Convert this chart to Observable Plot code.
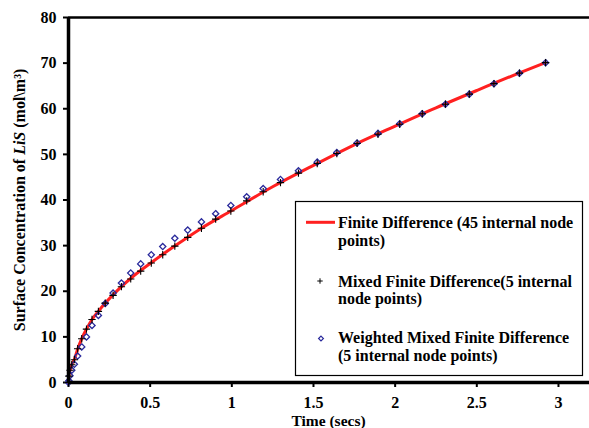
<!DOCTYPE html>
<html><head><meta charset="utf-8">
<script src="https://cdn.jsdelivr.net/npm/d3@7"></script>
<script src="https://cdn.jsdelivr.net/npm/@observablehq/plot@0.6"></script>
<style>
body{margin:0;background:#fff;}
#wrap{position:relative;width:589px;height:428px;overflow:hidden;}
</style></head><body><div id="wrap"></div>
<script>
// Marker times (secs)
const time = [0, 0.0023, 0.009, 0.020, 0.036, 0.056, 0.081, 0.110, 0.144, 0.183, 0.225, 0.273, 0.324, 0.381, 0.442, 0.507, 0.577, 0.651, 0.730, 0.814, 0.901, 0.994, 1.091, 1.192, 1.298, 1.408, 1.523, 1.643, 1.767, 1.895, 2.028, 2.166, 2.308, 2.454, 2.605, 2.761, 2.921];
// Mixed Finite Difference (5 internal node points)
const mixedFD = [0, 1.4, 2.7, 3.9, 5.0, 7.4, 9.6, 11.7, 13.8, 15.6, 17.4, 19.1, 21.0, 22.7, 24.4, 26.2, 28.0, 29.9, 31.8, 33.8, 35.8, 37.6, 39.8, 41.8, 43.8, 45.9, 48.0, 50.2, 52.4, 54.4, 56.6, 58.9, 61.0, 63.2, 65.5, 67.8, 70.1];
// Weighted Mixed Finite Difference (5 internal node points)
const weightedMFD = [0, 0.4, 1.5, 2.7, 4.0, 5.8, 7.8, 10.0, 12.5, 14.7, 17.3, 19.6, 21.8, 24.0, 26.0, 28.0, 29.8, 31.6, 33.4, 35.2, 37.0, 38.8, 40.7, 42.5, 44.5, 46.4, 48.3, 50.4, 52.5, 54.6, 56.7, 58.9, 61.0, 63.2, 65.5, 67.8, 70.1];
// Finite Difference (45 internal node points) curve
const fdTime = [0, 0.003, 0.01, 0.02, 0.036, 0.056, 0.081, 0.11, 0.144, 0.183, 0.225, 0.3, 0.4, 0.5, 0.65, 0.8, 1.0, 1.25, 1.5, 1.75, 2.0, 2.25, 2.5, 2.75, 2.92];
const fdConc = [0, 1.4, 2.7, 3.9, 5.1, 7.3, 9.6, 11.7, 13.8, 15.6, 17.4, 20.2, 23.4, 26.1, 29.9, 33.5, 37.7, 42.9, 47.6, 52.1, 56.2, 60.2, 64.0, 67.7, 70.1];

const xTicks = [0, 0.5, 1, 1.5, 2, 2.5, 3];
const xTickLabels = ["0", "0.5", "1", "1.5", "2", "2.5", "3"];
const yTicks = [0, 10, 20, 30, 40, 50, 60, 70, 80];
const yTickLabels = ["0", "10", "20", "30", "40", "50", "60", "70", "80"];
const xLabel = "Time (secs)";
const legendLabels = [
  ["Finite Difference (45 internal node", "points)"],
  ["Mixed Finite Difference(5 internal", "node points)"],
  ["Weighted Mixed Finite Difference", "(5 internal node points)"]
];

const RED = "#ff2020", BLUE = "#2a2a9c";
const FONT = "'Liberation Serif','Times New Roman',serif";

const markers = time.map((t, i) => ({t, mixed: mixedFD[i], weighted: weightedMFD[i]}));
const fd = fdTime.map((t, i) => ({t, c: fdConc[i]}));

const chart = Plot.plot({
  width: 589, height: 428,
  marginLeft: 68, marginRight: 0, marginTop: 17, marginBottom: 46,
  style: {fontFamily: FONT, fontSize: "16px", fontWeight: "bold", background: "white", color: "black", overflow: "visible"},
  x: {domain: [0, 3.19]},
  y: {domain: [0, 80]},
  marks: [
    Plot.axisX({ticks: xTicks, tickFormat: (d, i) => xTickLabels[i], tickSize: 5, tickPadding: 9, strokeWidth: 2, label: null}),
    Plot.axisY({ticks: yTicks, tickFormat: (d, i) => yTickLabels[i], tickSize: 5, tickPadding: 7, strokeWidth: 2, label: null}),
    Plot.line(fd, {x: "t", y: "c", stroke: RED, strokeWidth: 3, curve: "monotone-x"}),
    Plot.dot(markers, {x: "t", y: "weighted", symbol: "diamond2", r: 2.8, stroke: BLUE, strokeWidth: 1.3}),
    Plot.dot(markers, {x: "t", y: "mixed", symbol: "plus", r: 2.5, stroke: "black", strokeWidth: 1.1}),
    Plot.ruleY([80], {stroke: "black", strokeWidth: 2.5}),
    Plot.ruleX([0], {stroke: "black", strokeWidth: 3.5}),
    Plot.ruleY([0], {stroke: "black", strokeWidth: 3.5})
  ]
});
document.getElementById("wrap").appendChild(chart);

const svg = d3.select(chart);
// x-axis title
svg.append("text").attr("x", (68 + 589) / 2).attr("y", 426).attr("text-anchor", "middle")
  .attr("font-family", FONT).attr("font-weight", "bold").attr("font-size", 15.5).attr("fill", "black").text(xLabel);
// y-axis title
const yl = svg.append("text").attr("transform", "translate(24.5,200) rotate(-90)").attr("text-anchor", "middle")
  .attr("font-family", FONT).attr("font-weight", "bold").attr("font-size", 16).attr("fill", "black");
yl.append("tspan").text("Surface Concentration of ");
yl.append("tspan").attr("font-style", "italic").text("LiS");
yl.append("tspan").text(" (mol\\m³)");

// legend
const lg = svg.append("g").attr("transform", "translate(295,201)");
lg.append("rect").attr("x", 0.5).attr("y", 0.5).attr("width", 287).attr("height", 174)
  .attr("fill", "white").attr("stroke", "black").attr("stroke-width", 1.2);
lg.append("line").attr("x1", 11).attr("x2", 40).attr("y1", 21.3).attr("y2", 21.3).attr("stroke", RED).attr("stroke-width", 3);
lg.append("path").attr("d", d3.symbol(d3.symbolPlus, 11)()).attr("transform", "translate(25,80)")
  .attr("fill", "none").attr("stroke", "black").attr("stroke-width", 1);
lg.append("path").attr("d", d3.symbol(d3.symbolDiamond2, 15)()).attr("transform", "translate(26,137.5)")
  .attr("fill", "none").attr("stroke", BLUE).attr("stroke-width", 1.2);
const baselines = [[27, 44.5], [85.5, 103], [142, 159.5]];
legendLabels.forEach((lines, i) => {
  lines.forEach((s, j) => {
    lg.append("text").attr("x", 43).attr("y", baselines[i][j]).attr("text-anchor", "start").attr("font-family", FONT)
      .attr("font-weight", "bold").attr("font-size", 16).attr("fill", "black").text(s);
  });
});
</script></body></html>
